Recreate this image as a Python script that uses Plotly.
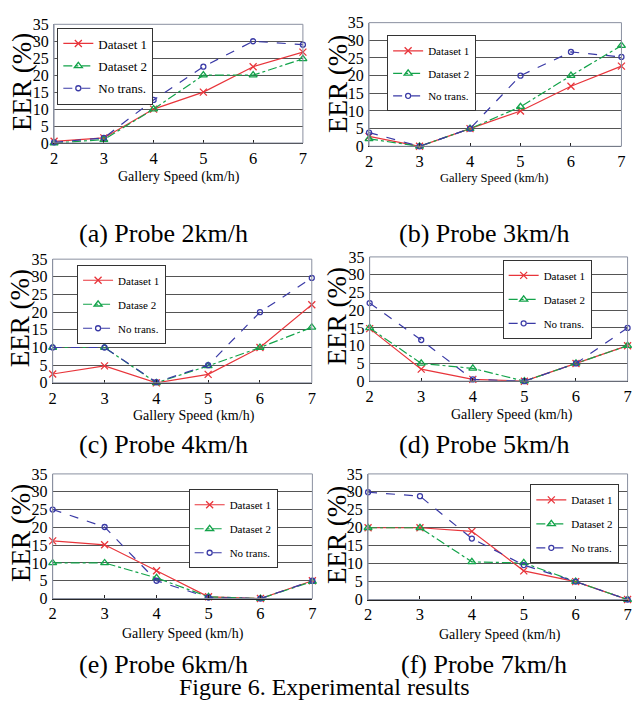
import plotly.graph_objects as go

# ---------------- data ----------------
speeds = [2, 3, 4, 5, 6, 7]
y_ticks = [0, 5, 10, 15, 20, 25, 30, 35]
x_title = "Gallery Speed (km/h)"
y_title = "EER (%)"
figure_caption = "Figure 6. Experimental results"
panel_captions = ["(a) Probe 2km/h", "(b) Probe 3km/h", "(c) Probe 4km/h",
                  "(d) Probe 5km/h", "(e) Probe 6km/h", "(f) Probe 7km/h"]
legend_labels = [
    ["Dataset 1", "Dataset 2", "No trans."],
    ["Dataset 1", "Dataset 2", "No trans."],
    ["Dataset 1", "Datase 2", "No trans."],
    ["Dataset 1", "Dataset 2", "No trans."],
    ["Dataset 1", "Dataset 2", "No trans."],
    ["Dataset 1", "Dataset 2", "No trans."],
]

a_dataset1 = [0.5, 1.5, 10, 15, 22.5, 26.8]
a_dataset2 = [0, 1, 10, 20, 20, 24.8]
a_notrans = [0.2, 1.5, 12.7, 22.5, 30, 29]

b_dataset1 = [2.8, 0, 5, 10, 17, 22.7]
b_dataset2 = [2.1, 0, 5, 11.2, 20, 28.5]
b_notrans = [3.9, 0, 5, 20, 26.7, 25.3]

c_dataset1 = [2.5, 4.8, 0, 2.4, 10, 22.1]
c_dataset2 = [10, 10, 0, 4.8, 10, 15.7]
c_notrans = [10, 10, 0.2, 5, 20, 29.7]

d_dataset1 = [14.8, 3.4, 0.5, 0, 5, 10]
d_dataset2 = [15, 5, 3.6, 0, 5, 10]
d_notrans = [22, 11.6, 0.5, 0, 5, 15]

e_dataset1 = [16.2, 15.1, 7.8, 0.5, 0, 5]
e_dataset2 = [10, 10, 5.8, 0.5, 0, 4.8]
e_notrans = [25, 20.1, 5, 0.3, 0, 5]

f_dataset1 = [20, 20, 19, 8, 5, 0]
f_dataset2 = [20, 20, 10.5, 10.2, 5, 0]
f_notrans = [29.9, 28.8, 17, 9.6, 5, 0]

panels_data = [
    (a_dataset1, a_dataset2, a_notrans),
    (b_dataset1, b_dataset2, b_notrans),
    (c_dataset1, c_dataset2, c_notrans),
    (d_dataset1, d_dataset2, d_notrans),
    (e_dataset1, e_dataset2, e_notrans),
    (f_dataset1, f_dataset2, f_notrans),
]

# ---------------- layout / style ----------------
W, H = 637, 713
FONT = "Liberation Serif, Times New Roman, serif"

# plot areas in px: left, right, top, bottom
boxes = [
    (50.7, 302.7, 16.7, 138.3),
    (369.7, 625.3, 15.0, 141.7),
    (49.3, 311.7, 257.3, 384.0),
    (370.3, 631.5, 255.0, 382.3),
    (49.3, 312.3, 477.3, 605.0),
    (368.7, 631.5, 477.3, 606.0),
]
# legend top-left px, font size, gap between entries
legend_pos = [(54, 20, 13, 2.5), (388, 28, 11, 3.5), (74, 263, 11, 5),
              (505, 258, 11, 5), (187, 493, 11, 5), (533, 488, 11, 5)]
# x title center px (x, y, size), y title center px (x, y)
xtitle_pos = [(177, 173, 14), (496, 174, 12.5), (192, 418, 14),
              (514, 417, 14), (181, 641, 14), (502, 642, 14)]
ytitle_pos = [(18, 76), (338, 78), (17, 318), (338, 316), (17, 538), (337, 540)]
caption_pos = [(162, 231), (486, 231), (162, 447), (486, 447), (162, 673), (486, 673)]

styles = [
    dict(color="#e8353b", dash="solid", symbol="x-thin", size=7),
    dict(color="#13a34a", dash="dashdot", symbol="triangle-up-open", size=7),
    dict(color="#3a3aa6", dash="dash", symbol="circle-open", size=5),
]

fig = go.Figure()
layout = dict(width=W, height=H, margin=dict(l=0, r=0, t=0, b=0),
              paper_bgcolor="white", plot_bgcolor="white",
              font=dict(family=FONT, color="black"),
              annotations=[], shapes=[])

for i, (data, box) in enumerate(zip(panels_data, boxes)):
    k = i + 1
    xa = "xaxis" if k == 1 else f"xaxis{k}"
    ya = "yaxis" if k == 1 else f"yaxis{k}"
    xr = "x" if k == 1 else f"x{k}"
    yr = "y" if k == 1 else f"y{k}"
    lg = "legend" if k == 1 else f"legend{k}"
    left, right, top, bottom = box
    layout[xa] = dict(domain=[left / W, right / W], range=[2, 7], anchor=yr,
                      tickvals=speeds, ticks="inside", ticklen=3, tickcolor="#222",
                      showline=True, linecolor="#222", linewidth=1.2,
                      showgrid=False, zeroline=False, ticklabeloverflow="allow",
                      tickfont=dict(family=FONT, size=16.5, color="black"))
    layout[ya] = dict(domain=[1 - bottom / H, 1 - top / H], range=[0, 35], anchor=xr,
                      tickvals=y_ticks, ticks="", showline=True, linecolor="#8a90a0",
                      linewidth=1, showgrid=True, gridcolor="#555", gridwidth=1.4,
                      zeroline=False, ticklabelstandoff=1, ticklabeloverflow="allow",
                      tickfont=dict(family=FONT, size=16, color="black"))
    # gray frame
    layout["shapes"].append(dict(type="rect", xref=f"{xr} domain", yref=f"{yr} domain",
                                 x0=0, x1=1, y0=0, y1=1, layer="above",
                                 line=dict(color="#8a90a0", width=1)))
    lx, ly, lfs, lgap = legend_pos[i]
    layout[lg] = dict(x=lx / W, y=1 - ly / H, xanchor="left", yanchor="top",
                      bgcolor="white", bordercolor="#333", borderwidth=1,
                      font=dict(family=FONT, size=lfs, color="black"),
                      tracegroupgap=lgap, itemwidth=30, traceorder="grouped")
    for j, (vals, st) in enumerate(zip(data, styles)):
        fig.add_trace(go.Scatter(
            x=speeds, y=vals, mode="lines+markers", name=legend_labels[i][j],
            xaxis=xr, yaxis=yr, legend=lg, legendgroup=f"p{k}s{j}",
            line=dict(color=st["color"], dash=st["dash"], width=1.2),
            marker=dict(symbol=st["symbol"], size=st["size"], color=st["color"],
                        line=dict(color=st["color"], width=1.3)),
            cliponaxis=False, showlegend=True))
    tx, ty, tfs = xtitle_pos[i]
    layout["annotations"].append(dict(text=x_title, x=tx / W, y=1 - ty / H, xref="paper",
                                      yref="paper", showarrow=False, xanchor="center",
                                      yanchor="middle",
                                      font=dict(family=FONT, size=tfs, color="black")))
    yx, yy = ytitle_pos[i]
    layout["annotations"].append(dict(text=y_title, x=yx / W, y=1 - yy / H, xref="paper",
                                      yref="paper", showarrow=False, textangle=-90,
                                      xanchor="center", yanchor="middle",
                                      font=dict(family=FONT, size=27, color="black")))
    cx, cy = caption_pos[i]
    layout["annotations"].append(dict(text=panel_captions[i], x=cx / W, y=1 - cy / H,
                                      xref="paper", yref="paper", showarrow=False,
                                      xanchor="center", yanchor="middle",
                                      font=dict(family=FONT, size=26, color="black")))

layout["annotations"].append(dict(text=figure_caption, x=325 / W, y=1 - 696 / H,
                                  xref="paper", yref="paper", showarrow=False,
                                  xanchor="center", yanchor="middle",
                                  font=dict(family=FONT, size=24, color="black")))

fig.update_layout(**layout)
fig.write_html("out.html", config={"displayModeBar": False},
               post_script="document.body.style.margin='0px'; document.body.style.overflow='hidden';")
